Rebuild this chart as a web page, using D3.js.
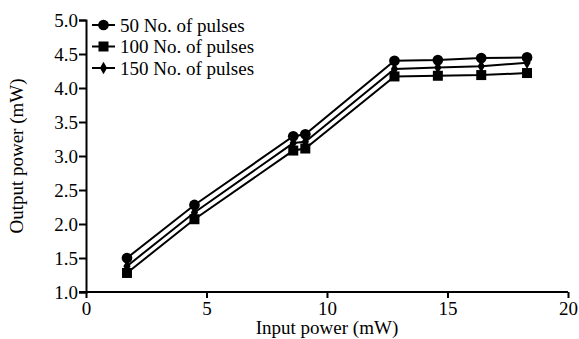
<!DOCTYPE html>
<html>
<head>
<meta charset="utf-8">
<script src="https://cdn.jsdelivr.net/npm/d3@7"></script>
<style>
  body { margin: 0; background: #fff; }
  text { font-family: "Liberation Serif", "Times New Roman", serif; fill: #000; }
</style>
</head>
<body>
<div id="chart"></div>
<script>
// input power (mW)
const inputPower = [1.7, 4.5, 8.6, 9.1, 12.8, 14.6, 16.4, 18.3];
// output power (mW) for each pulse count
const pulses50 = [1.50, 2.28, 3.29, 3.32, 4.40, 4.41, 4.44, 4.45];
const pulses100 = [1.28, 2.07, 3.08, 3.11, 4.17, 4.18, 4.19, 4.22];
const pulses150 = [1.38, 2.17, 3.19, 3.21, 4.28, 4.30, 4.32, 4.37];
const seriesNames = ['50 No. of pulses', '100 No. of pulses', '150 No. of pulses'];
const xTicks = [0, 5, 10, 15, 20];
const yTicks = [1.0, 1.5, 2.0, 2.5, 3.0, 3.5, 4.0, 4.5, 5.0];

const W = 579, H = 339;
const margin = { left: 86, right: 11, top: 20, bottom: 47 };
const FONT = '"Liberation Serif", "Times New Roman", serif';

const svg = d3.select('#chart').append('svg')
  .attr('width', W)
  .attr('height', H);

const x = d3.scaleLinear().domain([0, 20]).range([margin.left, W - margin.right]);
const y = d3.scaleLinear().domain([1, 5]).range([H - margin.bottom, margin.top]);

const series = [
  { name: seriesNames[0], values: pulses50, shape: d3.symbolCircle, size: 90 },
  { name: seriesNames[1], values: pulses100, shape: d3.symbolSquare, size: 100 },
  { name: seriesNames[2], values: pulses150, shape: d3.symbolDiamond, size: 45 }
];

// axes
const xAxis = svg.append('g')
  .attr('transform', `translate(0,${y(1)})`)
  .call(d3.axisBottom(x).tickValues(xTicks).tickFormat(d3.format('d')).tickSizeOuter(0).tickSize(6));
const yAxis = svg.append('g')
  .attr('transform', `translate(${x(0)},0)`)
  .call(d3.axisLeft(y).tickValues(yTicks).tickFormat(d3.format('.1f')).tickSizeOuter(0).tickSize(7));

[xAxis, yAxis].forEach(a => {
  a.attr('font-family', FONT).attr('font-size', 19);
  a.select('.domain').attr('stroke', '#000').attr('stroke-width', 2);
  a.selectAll('.tick line').attr('stroke', '#000').attr('stroke-width', 2);
  a.selectAll('.tick text').attr('fill', '#000');
});
xAxis.selectAll('.tick text').attr('y', 23).attr('dy', null);
yAxis.selectAll('.tick text').attr('x', -8).attr('dy', '0.34em');
// extend x axis line slightly past y axis like the reference
xAxis.select('.domain').attr('d', `M${x(0) - 7},0H${x(20)}`);

// axis titles
svg.append('text')
  .attr('x', (x(0) + x(20)) / 2)
  .attr('y', 334)
  .attr('text-anchor', 'middle')
  .style('font-size', '19px')
  .text('Input power (mW)');
svg.append('text')
  .attr('transform', `translate(23,${(y(1) + y(5)) / 2}) rotate(-90)`)
  .attr('text-anchor', 'middle')
  .style('font-size', '19px')
  .text('Output power (mW)');

// lines + markers
const line = d3.line().x((d, i) => x(inputPower[i])).y(d => y(d));

series.forEach(s => {
  svg.append('path')
    .datum(s.values)
    .attr('d', line)
    .attr('fill', 'none')
    .attr('stroke', '#000')
    .attr('stroke-width', 2);
  svg.selectAll(null)
    .data(s.values)
    .enter().append('path')
    .attr('d', d3.symbol().type(s.shape).size(s.size))
    .attr('transform', (d, i) => `translate(${x(inputPower[i])},${y(d)})`)
    .attr('fill', '#000');
});

// legend
const legend = svg.append('g').attr('transform', 'translate(92,25)');
series.forEach((s, i) => {
  const g = legend.append('g').attr('transform', `translate(0,${i * 21.5})`);
  g.append('line').attr('x1', 0).attr('x2', 23).attr('y1', 0).attr('y2', 0)
    .attr('stroke', '#000').attr('stroke-width', 2);
  g.append('path')
    .attr('d', d3.symbol().type(s.shape).size(s.size))
    .attr('transform', 'translate(11.5,0)')
    .attr('fill', '#000');
  g.append('text')
    .attr('x', 28)
    .attr('y', 0)
    .attr('dy', '0.35em')
    .style('font-size', '19px')
    .text(s.name);
});
</script>
</body>
</html>
